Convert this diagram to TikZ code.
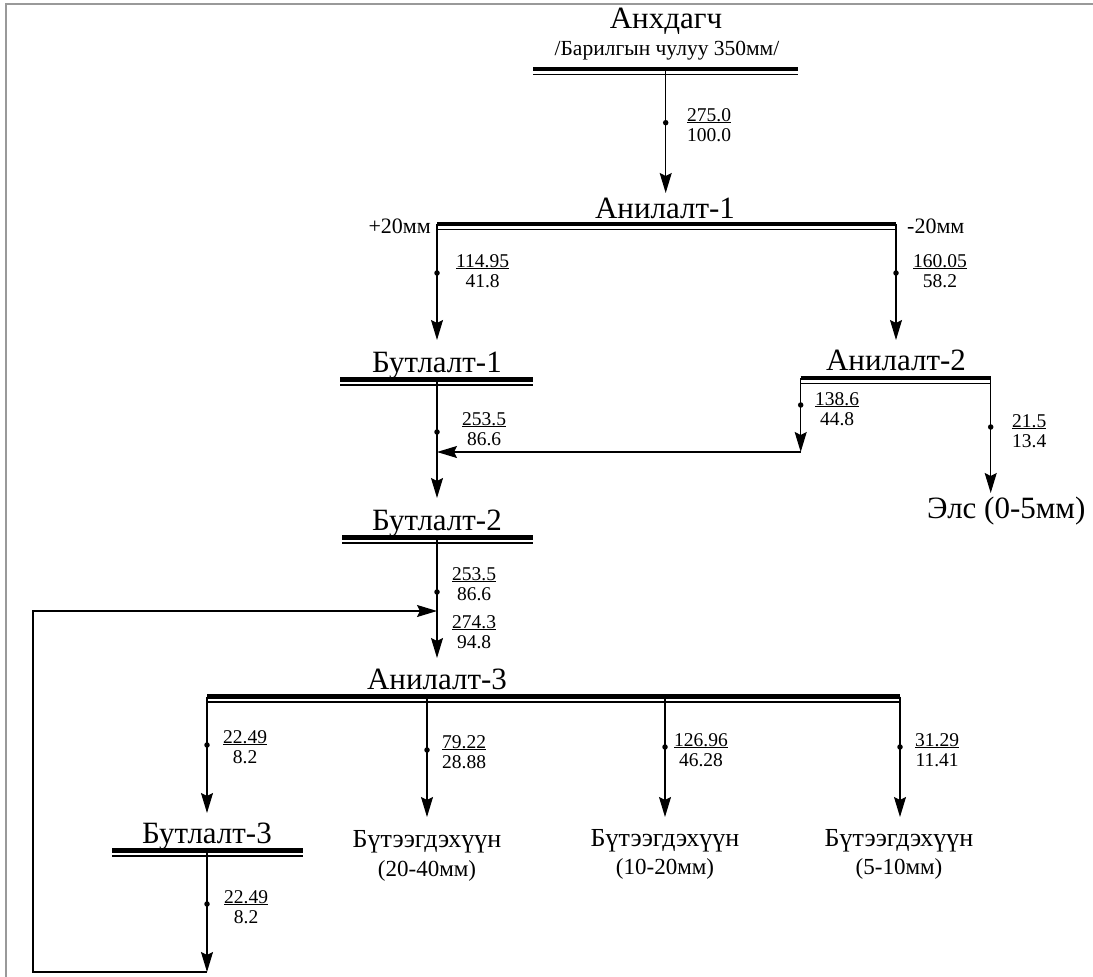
\documentclass[tikz,border=0pt]{standalone}
\usepackage{fontspec}
\setmainfont{Liberation Serif}
\usetikzlibrary{arrows.meta}
\newcommand\ulx[1]{\setbox0\hbox{#1}\rlap{\rule[-2.4pt]{\wd0}{1.1pt}}\box0}
\newcommand\frc[5]{%
  \node[fr, anchor=base west] (#1n) at (#2,#3) {\ulx{#4}};
  \node[fr, anchor=base] (#1d) at ([yshift=-20pt]#1n.base) {#5};}
\newcommand\twobar[4]{%
  \coordinate (#1L) at (#2,#4); \coordinate (#1R) at (#3,#4);
  \draw[thickbar] (#1L) -- (#1R);
  \draw[thinbar] ([yshift=-5.5pt]#1L) -- ([yshift=-5.5pt]#1R);}
\tikzset{
  hd/.style={font=\fontsize{31}{31}\selectfont, inner sep=0pt, anchor=base},
  subt/.style={font=\fontsize{21.5}{21.5}\selectfont, inner sep=0pt, anchor=base},
  side/.style={font=\fontsize{22}{22}\selectfont, inner sep=0pt},
  prod/.style={font=\fontsize{26}{26}\selectfont, inner sep=0pt, anchor=base},
  prodsub/.style={font=\fontsize{23}{23}\selectfont, inner sep=0pt, anchor=base},
  fr/.style={font=\fontsize{19.5}{19.5}\selectfont, inner sep=0pt},
  thickbar/.style={line width=4.3pt},
  thinbar/.style={line width=1.5pt},
  flow/.style={line width=1.2pt, -{Stealth[length=20pt,width=12pt,inset=3pt]}},
  dot/.style={circle, fill=black, inner sep=0pt, minimum size=5.5pt},
  frame/.style={line width=2pt, draw=black!40}
}
\begin{document}
\begin{tikzpicture}[x=1pt,y=-1pt]
\useasboundingbox (0,0) rectangle (1093,977);
% frame
\coordinate (fTL) at (6,4); \coordinate (fTR) at (1093,4); \coordinate (fBL) at (6,977);
\draw[frame] (fTR) -- (fTL) -- (fBL);

% Source
\node[hd] (src) at (666,28) {Анхдагч};
\node[subt] (srcsub) at (667,55) {/Барилгын чулуу 350мм/};
\twobar{b0}{533}{798}{69}
\coordinate (s0) at (665.7,69); \coordinate (t0) at (665.7,193);
\draw[flow] (s0) -- (t0);
\node[dot] (d0) at (665.7,122.7) {};
\frc{f0}{687}{121}{275.0}{100.0}

% Анилалт-1
\node[hd] (an1) at (665,218) {Анилалт-1};
\twobar{b1}{437}{896}{224}
\node[side, anchor=base east] (p20) at (431,233) {+20мм};
\node[side, anchor=base west] (m20) at (907,233) {-20мм};
\coordinate (t1) at (437,340);
\draw[flow] (b1L) -- (t1);
\node[dot] (d1) at (437,273) {};
\frc{f1}{456}{267}{114.95}{41.8}
\coordinate (t2) at (896,340);
\draw[flow] (b1R) -- (t2);
\node[dot] (d2) at (896,273) {};
\frc{f2}{913}{267}{160.05}{58.2}

% Бутлалт-1 and Анилалт-2
\node[hd] (bt1) at (437,372) {Бутлалт-1};
\twobar{b2}{340}{533}{379.5}
\node[hd] (an2) at (896,370) {Анилалт-2};
\twobar{b3}{800.7}{990.7}{378}

\coordinate (s3) at (437,379.5); \coordinate (t3) at (437,498);
\draw[flow] (s3) -- (t3);
\node[dot] (d3) at (437,432) {};
\frc{f3}{462}{425}{253.5}{86.6}

\coordinate (t4) at (800.7,452); \coordinate (j4) at (437,452);
\draw[flow] (b3L) -- (t4);
\draw[flow] (t4) -- (j4);
\node[dot] (d4) at (800.7,405) {};
\frc{f4}{815}{405}{138.6}{44.8}

\coordinate (t5) at (990.7,493);
\draw[flow] (b3R) -- (t5);
\node[dot] (d5) at (990.7,427) {};
\frc{f5}{1012}{427}{21.5}{13.4}
\node[hd, anchor=base west] (els) at (927,518) {Элс (0-5мм)};

% Бутлалт-2
\node[hd] (bt2) at (437,530) {Бутлалт-2};
\twobar{b4}{342}{533}{537.5}
\coordinate (s6) at (437,537.5); \coordinate (t6) at (437,658);
\draw[flow] (s6) -- (t6);
\node[dot] (d6) at (437,592) {};
\frc{f6}{452}{580}{253.5}{86.6}
\frc{f7}{452}{628}{274.3}{94.8}

% Анилалт-3
\node[hd] (an3) at (437,689) {Анилалт-3};
\twobar{b5}{207}{900}{696.5}

% branch 1 -> Бутлалт-3
\coordinate (t8) at (207,813);
\draw[flow] (b5L) -- (t8);
\node[dot] (d8) at (207,745) {};
\frc{f8}{223}{743}{22.49}{8.2}
\node[hd] (bt3) at (207,843) {Бутлалт-3};
\twobar{b6}{112}{303}{850.5}
\coordinate (s9) at (207,850.5); \coordinate (t9) at (207,972);
\draw[flow] (s9) -- (t9);
\node[dot] (d9) at (207,904) {};
\frc{f9}{224}{903}{22.49}{8.2}
% recycle
\coordinate (r1) at (33,972); \coordinate (r2) at (33,611); \coordinate (r3) at (437,611);
\draw[flow] (t9) -- (r1) -- (r2) -- (r3);

% branch 2
\coordinate (s10) at (427,696.5); \coordinate (t10) at (427,817);
\draw[flow] (s10) -- (t10);
\node[dot] (d10) at (427,750) {};
\frc{f10}{442}{748}{79.22}{28.88}
\node[prod] (pr1) at (427,847) {Бүтээгдэхүүн};
\node[prodsub] (pr1s) at (427,876) {(20-40мм)};

% branch 3
\coordinate (s11) at (665,696.5); \coordinate (t11) at (665,817);
\draw[flow] (s11) -- (t11);
\node[dot] (d11) at (665,747) {};
\frc{f11}{674}{746}{126.96}{46.28}
\node[prod] (pr2) at (665,846) {Бүтээгдэхүүн};
\node[prodsub] (pr2s) at (665,874) {(10-20мм)};

% branch 4
\coordinate (t12) at (900,817);
\draw[flow] (b5R) -- (t12);
\node[dot] (d12) at (900,747) {};
\frc{f12}{915}{746}{31.29}{11.41}
\node[prod] (pr3) at (899,846) {Бүтээгдэхүүн};
\node[prodsub] (pr3s) at (899,874) {(5-10мм)};
\end{tikzpicture}
\end{document}
